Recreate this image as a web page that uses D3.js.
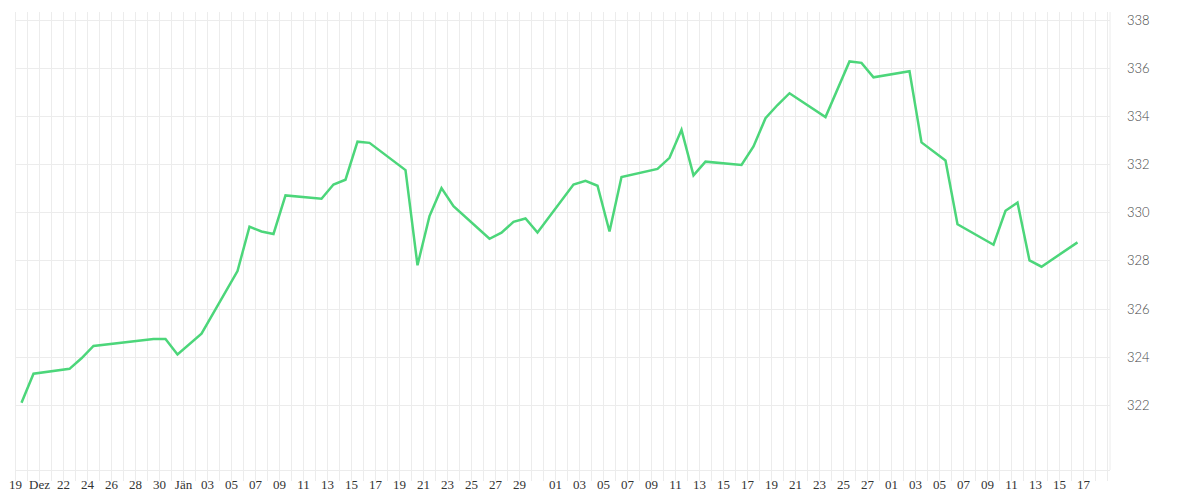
<!DOCTYPE html>
<html><head><meta charset="utf-8">
<script src="https://cdn.jsdelivr.net/npm/d3@7"></script>
<style>body{margin:0;background:#fff}</style>
</head><body>
<svg id="c" width="1200" height="500"></svg>
<script>
// day offsets from 2018-12-18 (data points at noon)
const dayOffsets = [0,1,4,5,6,11,12,13,15,18,19,20,21,22,25,26,27,28,29,32,33,34,35,36,39,40,41,42,43,46,47,48,49,50,53,54,55,56,57,60,61,62,63,64,67,69,70,71,74,75,77,78,81,82,83,84,85,88];
const values = [322.09,323.3,323.5,323.94,324.45,324.74,324.74,324.1,324.96,327.56,329.4,329.2,329.1,330.7,330.56,331.15,331.35,332.93,332.88,331.75,327.8,329.84,331.0,330.25,328.9,329.15,329.6,329.74,329.16,331.15,331.3,331.1,329.2,331.46,331.8,332.26,333.42,331.53,332.1,331.96,332.73,333.9,334.45,334.94,333.95,336.26,336.2,335.6,335.85,332.9,332.15,329.5,328.65,330.06,330.4,328.0,327.74,328.75];
const yTicks = [322,324,326,328,330,332,334,336,338];
// x tick labels: [day offset, label]
const xTickOffsets = [0,2,4,6,8,10,12,14,16,18,20,22,24,26,28,30,32,34,36,38,40,42,45,47,49,51,53,55,57,59,61,63,65,67,69,71,73,75,77,79,81,83,85,87,89];
const xTickLabels = ["19","Dez","22","24","26","28","30","Jän","03","05","07","09","11","13","15","17","19","21","23","25","27","29","01","03","05","07","09","11","13","15","17","19","21","23","25","27","01","03","05","07","09","11","13","15","17"];

const base = new Date(2018,11,18);
const dt = o => new Date(base.getTime() + o*864e5);
const data = dayOffsets.map((o,i)=>({d:new Date(dt(o).getTime()+432e5), v:values[i]}));

const svg = d3.select("#c");
const x = d3.scaleTime().domain([dt(0), dt(91)]).range([15.5, 1107.5]);
const y = d3.scaleLinear().domain([322,338]).range([405,19.5]);
const plotTop = 12, plotBottom = 470;

const g = svg.append("g");
g.selectAll("line.v").data(d3.range(0,92)).join("line")
  .attr("x1",d=>x(dt(d))).attr("x2",d=>x(dt(d)))
  .attr("y1",plotTop).attr("y2",481).attr("stroke","#ececec").attr("stroke-width",1);
g.selectAll("line.h").data(yTicks).join("line")
  .attr("x1",15.5).attr("x2",1110).attr("y1",d=>Math.round(y(d))+0.5).attr("y2",d=>Math.round(y(d))+0.5)
  .attr("stroke","#ececec");
g.append("line").attr("x1",15.5).attr("x2",1110).attr("y1",plotBottom+0.5).attr("y2",plotBottom+0.5).attr("stroke","#ececec");
g.append("line").attr("x1",1110).attr("x2",1110).attr("y1",plotTop).attr("y2",plotBottom).attr("stroke","#ececec");

svg.selectAll("text.y").data(yTicks).join("text")
  .attr("x",1127).attr("y",d=>y(d)+5).text(d=>d)
  .attr("font-family","Lato, 'Open Sans', sans-serif").attr("font-weight",300)
  .attr("font-size",13).attr("fill","#444");
svg.selectAll("text.x").data(xTickOffsets).join("text")
  .attr("x",d=>x(dt(d))).attr("y",489).attr("text-anchor","middle")
  .text((d,i)=>xTickLabels[i])
  .attr("font-family","'Liberation Serif', serif").attr("font-size",13).attr("fill","#333");

svg.append("path").datum(data)
  .attr("d", d3.line().x(d=>x(d.d)).y(d=>y(d.v)))
  .attr("fill","none").attr("stroke","#4cd67a").attr("stroke-width",2.5).attr("stroke-linejoin","miter");
</script>
</body></html>
